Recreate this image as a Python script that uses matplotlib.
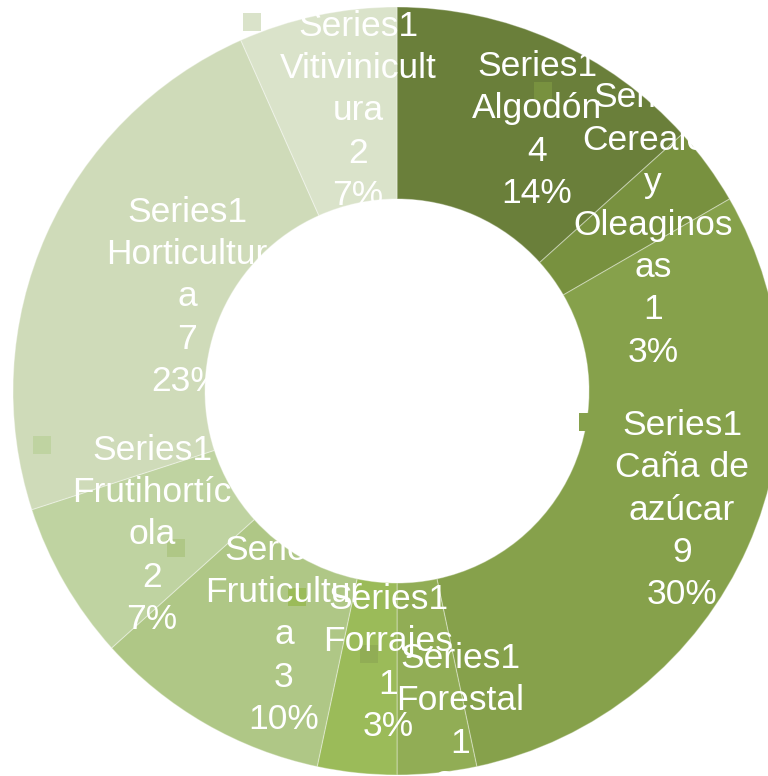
import matplotlib
matplotlib.use("Agg")
import matplotlib.pyplot as plt
from matplotlib.patches import Rectangle

# ---- data ----
categories = ["Algodón", "Cereales y Oleaginosas", "Caña de azúcar", "Forestal",
              "Forrajes", "Fruticultura", "Frutihortícola", "Horticultura",
              "Vitivinicultura"]
values = [4, 1, 9, 1, 1, 3, 2, 7, 2]
percent_labels = ["14%", "3%", "30%", "3%", "3%", "10%", "7%", "23%", "7%"]
series_name = "Series1"
# wrapped category text as shown in the data labels
wrapped_names = ["Algodón", "Cereales\ny\nOleaginos\nas", "Caña de\nazúcar", "Forestal",
                 "Forrajes", "Fruticultur\na", "Frutihortíc\nola", "Horticultur\na",
                 "Vitivinicult\nura"]

# ---- style ----
colors = ["#6a7f3a", "#78913f", "#86a14b", "#91ad55", "#9bbb59",
          "#afc786", "#bfd3a1", "#cfdbb9", "#dae3ca"]

W, H = 768, 776
CX, CY, R = 397, 391, 384  # pixel center and outer radius

# label centers (pixels) and legend-key centers (pixels)
label_pos = [(537, 130), (653, 225), (682, 510), (460, 722), (388, 663),
             (284, 635), (152, 535), (187, 297), (358, 111)]
key_pos = [(455, 62), (543, 91), (588, 422), (369, 654), (297, 597),
           (176, 548), (42, 445), (115, 212), (252, 22)]

def px(p):
    return ((p[0] - CX) / R, (CY - p[1]) / R)

fig = plt.figure(figsize=(W / 100, H / 100), dpi=100)
ax = fig.add_axes([0, 0, 1, 1])

ax.pie(values, colors=colors, startangle=90, counterclock=False, radius=1.0,
       wedgeprops=dict(width=0.5, edgecolor=(1, 1, 1, 0.35), linewidth=0.8),
       center=(0, 0), frame=False)
ax.set_xlim(-CX / R, (W - CX) / R)
ax.set_ylim(-(H - CY) / R, CY / R)
ax.set_aspect("auto")
ax.axis("off")

ks = 18 / R
for i in range(len(values)):
    kx, ky = px(key_pos[i])
    ax.add_patch(Rectangle((kx - ks / 2, ky - ks / 2), ks, ks,
                           facecolor=colors[i], edgecolor="none", zorder=3))

for i in range(len(values)):
    lx, ly = px(label_pos[i])
    txt = f"{series_name}\n{wrapped_names[i]}\n{values[i]}\n{percent_labels[i]}"
    ax.text(lx, ly, txt, ha="center", va="center", color="white",
            fontsize=25.5, family=["Liberation Sans", "DejaVu Sans"],
            linespacing=1.36, zorder=4)

fig.savefig("out.png", dpi=100)
